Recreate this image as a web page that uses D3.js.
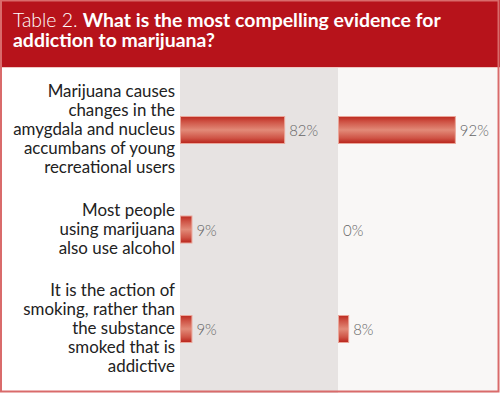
<!DOCTYPE html>
<html>
<head>
<meta charset="utf-8">
<script src="https://cdn.jsdelivr.net/npm/d3@7/dist/d3.min.js"></script>
<style>
  html, body { margin: 0; padding: 0; background: #fff; }
  svg { display: block; }
</style>
</head>
<body>
<svg id="chart" width="500" height="393"></svg>
<script>
// ---- data ----
const titleLead = "Table 2.";
const titleLine1 = "What is the most compelling evidence for";
const titleLine2 = "addiction to marijuana?";
const categories = [
  ["Marijuana causes", "changes in the", "amygdala and nucleus", "accumbans of young", "recreational users"],
  ["Most people", "using marijuana", "also use alcohol"],
  ["It is the action of", "smoking, rather than", "the substance", "smoked that is", "addictive"]
];
const seriesA = [82, 9, 9];
const seriesB = [92, 0, 8];

// ---- layout ----
const W = 500, H = 393;
const headerH = 67;
const panelA = [180, 338];
const panelB = [338, 497];
const svg = d3.select("#chart");
const FONT = "Lato, 'Open Sans', sans-serif";

const defs = svg.append("defs");
const grad = defs.append("linearGradient").attr("id", "barGrad")
  .attr("x1", 0).attr("y1", 0).attr("x2", 0).attr("y2", 1);
grad.append("stop").attr("offset", "0%").attr("stop-color", "#bd2a20");
grad.append("stop").attr("offset", "20%").attr("stop-color", "#cf5446");
grad.append("stop").attr("offset", "50%").attr("stop-color", "#e28a78");
grad.append("stop").attr("offset", "80%").attr("stop-color", "#cf5446");
grad.append("stop").attr("offset", "100%").attr("stop-color", "#b8231a");

// background
svg.append("rect").attr("x", 0).attr("y", 0).attr("width", W).attr("height", H).attr("fill", "#fff");
svg.append("rect").attr("x", panelA[0]).attr("y", headerH).attr("width", panelA[1] - panelA[0]).attr("height", H - headerH).attr("fill", "#e7e3e2");
svg.append("rect").attr("x", panelB[0]).attr("y", headerH).attr("width", panelB[1] - panelB[0]).attr("height", H - headerH).attr("fill", "#f9f7f6");

// header
svg.append("rect").attr("x", 0).attr("y", 0).attr("width", W).attr("height", headerH).attr("fill", "#b7131b");
svg.append("line").attr("x1", 0).attr("x2", W).attr("y1", headerH + 0.5).attr("y2", headerH + 0.5)
  .attr("stroke", "#f0c8c4").attr("stroke-width", 1);

const title = svg.append("text").attr("x", 13).attr("y", 27)
  .attr("fill", "#fff").attr("font-family", FONT).attr("font-size", 20);
const l1 = title.append("tspan").attr("x", 13).attr("y", 27);
l1.append("tspan").attr("font-weight", 300).text(titleLead + " ");
l1.append("tspan").attr("font-weight", 700).text(titleLine1);
title.append("tspan").attr("x", 13).attr("y", 47).attr("font-weight", 700).text(titleLine2);
// fit title width to reference
const tw = l1.node().getComputedTextLength();
const tfs = Math.min(21, 20 * 428 / tw);
title.attr("font-size", tfs);

// scales
const y = d3.scalePoint().domain(d3.range(categories.length)).range([130, 329]);
const x = d3.scaleLinear().domain([0, 100]).range([0, 127]);
const barH = 27;

// category labels (one text per category, one tspan per line)
const lineH = 19;
const lab = svg.append("g").attr("font-family", FONT).attr("fill", "#222").attr("text-anchor", "end");
const labTexts = [];
let refSpan = null;
categories.forEach((lines, i) => {
  const n = lines.length;
  const t = lab.append("text").attr("font-size", 16);
  lines.forEach((ln, j) => {
    const s = t.append("tspan").attr("x", 175)
      .attr("y", y(i) + 5 + (j - (n - 1) / 2) * lineH).text(ln);
    if (i === 0 && j === 2) refSpan = s;
  });
  labTexts.push(t);
});
const refLab = refSpan.node().getComputedTextLength();
const lfs = Math.min(17, 16 * 162 / refLab);
labTexts.forEach(t => t.attr("font-size", lfs));

// bars
function drawSeries(vals, x0) {
  const g = svg.append("g");
  g.selectAll("rect").data(vals).join("rect")
    .attr("x", x0 + 0.5)
    .attr("y", (d, i) => y(i) - barH / 2)
    .attr("width", d => x(d))
    .attr("height", barH)
    .attr("fill", "url(#barGrad)")
    .attr("stroke", d => d > 0 ? "#eaa69a" : "none")
    .attr("stroke-width", 1)
    .attr("display", d => d > 0 ? null : "none");
  const vl = g.selectAll("text").data(vals).join("text")
    .attr("x", d => x0 + x(d) + 5)
    .attr("y", (d, i) => y(i) + 6)
    .attr("font-family", FONT).attr("font-weight", 300)
    .attr("font-size", 17).attr("fill", "#666")
    .text(d => d + "%");
  return vl;
}
const vA = drawSeries(seriesA, panelA[0]);
const vB = drawSeries(seriesB, panelB[0]);
const vw = vA.nodes()[0].getComputedTextLength();
const vfs = Math.min(18, 17 * 29 / vw);
vA.attr("font-size", vfs); vB.attr("font-size", vfs);

// outer border
svg.append("rect").attr("x", 1).attr("y", 0.5).attr("width", W - 2.5).attr("height", H - 2)
  .attr("fill", "none").attr("stroke", "#d96b6b").attr("stroke-width", 2);
</script>
</body>
</html>
